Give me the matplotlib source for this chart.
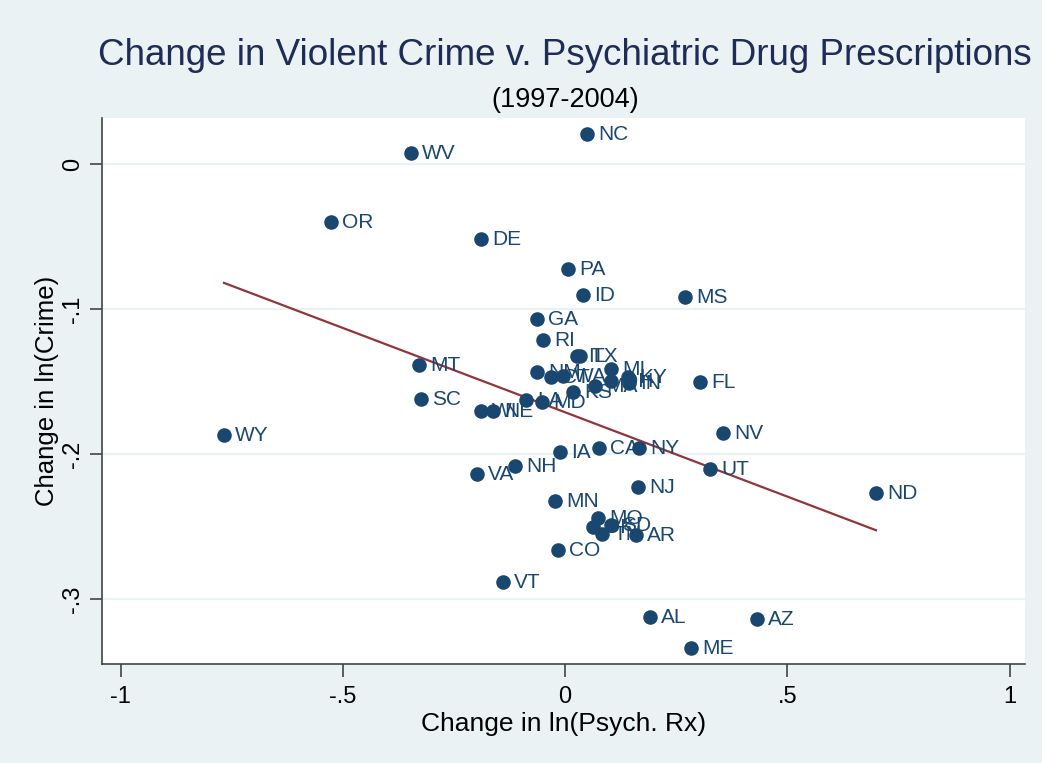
import numpy as np
import matplotlib
matplotlib.use('Agg')
import matplotlib.pyplot as plt

# state labels and their changes
states = ['NC', 'WV', 'OR', 'DE', 'PA', 'ID', 'MS', 'GA', 'RI', 'IL', 'TX', 'MI',
          'NM', 'CT', 'WA', 'OH', 'KY', 'IN', 'MA', 'KS', 'FL', 'MT', 'SC', 'LA',
          'MD', 'WI', 'NE', 'WY', 'NV', 'IA', 'CA', 'NY', 'UT', 'ND', 'NH', 'VA',
          'MN', 'NJ', 'MO', 'OK', 'SD', 'TN', 'AR', 'CO', 'VT', 'AL', 'AZ', 'ME']
d_rx = [0.0495, -0.3465, -0.5264, -0.1890, 0.0067, 0.0405, 0.2700, -0.0630, -0.0495, 0.0270,
        0.0337, 0.1035, -0.0630, -0.0315, -0.0045, 0.1035, 0.1417, 0.1440, 0.0675, 0.0180,
        0.3037, -0.3285, -0.3240, -0.0877, -0.0517, -0.1890, -0.1620, -0.7672, 0.3555, -0.0112,
        0.0765, 0.1665, 0.3262, 0.6997, -0.1125, -0.1980, -0.0225, 0.1642, 0.0742, 0.0630,
        0.1035, 0.0832, 0.1597, -0.0157, -0.1395, 0.1912, 0.4319, 0.2835]
d_crime = [0.0207, 0.0076, -0.0400, -0.0517, -0.0724, -0.0903, -0.0917, -0.1069, -0.1214, -0.1324,
           -0.1324, -0.1414, -0.1434, -0.1469, -0.1462, -0.1497, -0.1469, -0.1510, -0.1531, -0.1572,
           -0.1503, -0.1386, -0.1621, -0.1628, -0.1641, -0.1703, -0.1703, -0.1869, -0.1855, -0.1986,
           -0.1959, -0.1959, -0.2103, -0.2269, -0.2083, -0.2138, -0.2324, -0.2228, -0.2441, -0.2503,
           -0.2490, -0.2552, -0.2559, -0.2662, -0.2883, -0.3124, -0.3138, -0.3338]

x_ticks = [-1, -0.5, 0, 0.5, 1]
x_ticklabels = ['-1', '-.5', '0', '.5', '1']
y_ticks = [0, -0.1, -0.2, -0.3]
y_ticklabels = ['0', '-.1', '-.2', '-.3']

bg = '#EAF2F3'
navy = '#1A476F'
maroon = '#90353B'

plt.rcParams['font.family'] = ['Liberation Sans', 'DejaVu Sans']

fig = plt.figure(figsize=(10.42, 7.63), dpi=100, facecolor=bg)
ax = fig.add_axes([0.0979, 0.1298, 0.8858, 0.7155])
ax.set_facecolor('white')

ax.scatter(d_rx, d_crime, s=110, color=navy, zorder=3, linewidths=0)
for st, x, y in zip(states, d_rx, d_crime):
    ax.annotate(st, (x, y), xytext=(8, -0.5), textcoords='offset points',
                va='center', ha='left', fontsize=15, color=navy, zorder=4)

# fitted line over the data range
xs = np.array(d_rx)
b, a = np.polyfit(xs, np.array(d_crime), 1)
xl = np.array([xs.min(), xs.max()])
ax.plot(xl, a + b * xl, color=maroon, lw=1.6, zorder=2)

ax.set_xlim(-1.0416, 1.0349)
ax.set_ylim(-0.3448, 0.0317)
ax.set_xticks(x_ticks)
ax.set_xticklabels(x_ticklabels, fontsize=17)
ax.set_yticks(y_ticks)
ax.set_yticklabels(y_ticklabels, fontsize=17, rotation=90, va='center')
ax.tick_params(axis='x', length=9, width=1.2, color='#444444', pad=7)
ax.tick_params(axis='y', length=9, width=1.2, color='#444444', pad=4)
ax.grid(axis='y', color=bg, lw=1.6, zorder=0)
ax.set_axisbelow(True)
for sp in ['top', 'right']:
    ax.spines[sp].set_visible(False)
for sp in ['left', 'bottom']:
    ax.spines[sp].set_color('#444444')
    ax.spines[sp].set_linewidth(1.2)

ax.set_xlabel('Change in ln(Psych. Rx)', fontsize=19, labelpad=3)
ax.set_ylabel('Change in ln(Crime)', fontsize=18.5, labelpad=2)

fig.text(0.542, 0.927, 'Change in Violent Crime v. Psychiatric Drug Prescriptions',
         ha='center', va='center', fontsize=26.5, color='#1E2C57')
fig.text(0.542, 0.869, '(1997-2004)', ha='center', va='center', fontsize=19.5, color='black')

plt.savefig('out.png', dpi=100, facecolor=bg)
